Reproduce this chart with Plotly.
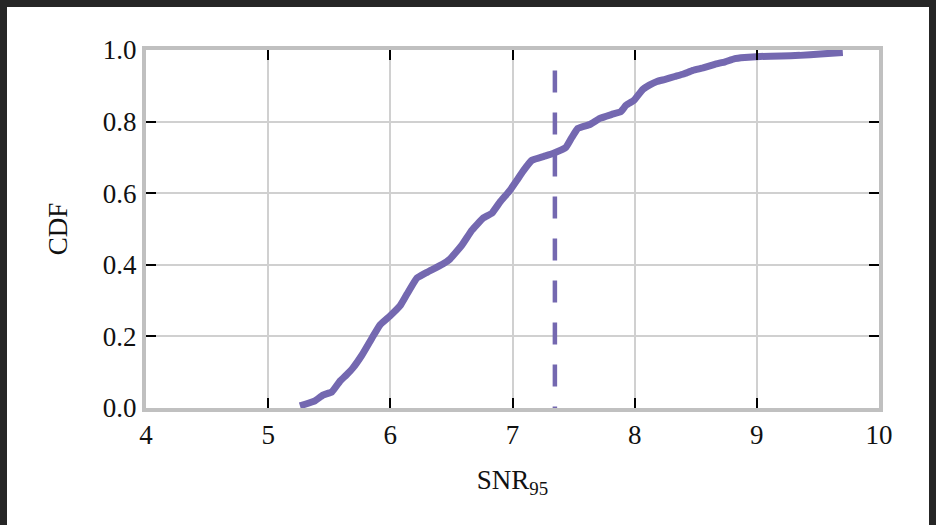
import plotly.graph_objects as go

snr = [5.26, 5.383, 5.448, 5.522, 5.588, 5.640, 5.694, 5.768, 5.849, 5.915, 5.997,
       6.079, 6.136, 6.218, 6.300, 6.430, 6.488, 6.586, 6.668, 6.758, 6.831,
       6.897, 6.979, 7.036, 7.085, 7.159, 7.257, 7.331, 7.437, 7.486, 7.535,
       7.633, 7.715, 7.813, 7.887, 7.928, 7.993, 8.067, 8.120, 8.182, 8.250,
       8.329, 8.400, 8.476, 8.560, 8.656, 8.740, 8.820, 8.900, 9.025, 9.200,
       9.352, 9.520, 9.704]
cdf = [0.006, 0.020, 0.036, 0.045, 0.075, 0.092, 0.112, 0.148, 0.195, 0.232, 0.257,
       0.285, 0.318, 0.363, 0.379, 0.402, 0.416, 0.455, 0.497, 0.530, 0.544,
       0.575, 0.608, 0.636, 0.661, 0.692, 0.703, 0.711, 0.728, 0.756, 0.781,
       0.792, 0.809, 0.820, 0.828, 0.845, 0.859, 0.890, 0.902, 0.912, 0.918,
       0.926, 0.933, 0.943, 0.950, 0.960, 0.967, 0.976, 0.979, 0.982, 0.983,
       0.985, 0.989, 0.993]

# Threshold marker (dashed vertical line)
threshold_x = [7.347, 7.347]
threshold_y = [0.943, 0.0]

x_ticks = [4, 5, 6, 7, 8, 9, 10]
y_ticks = [0.0, 0.2, 0.4, 0.6, 0.8, 1.0]
y_tick_labels = ["0.0", "0.2", "0.4", "0.6", "0.8", "1.0"]

purple = "#7468b0"
font_family = "Liberation Serif, Times New Roman, serif"

fig = go.Figure()
fig.add_trace(go.Scatter(x=snr, y=cdf, mode="lines",
                         line=dict(color=purple, width=7, shape="spline", smoothing=0.3),
                         showlegend=False, hoverinfo="skip"))
fig.add_trace(go.Scatter(x=threshold_x, y=threshold_y, mode="lines",
                         line=dict(color=purple, width=4.5, dash="22px,20px"),
                         showlegend=False, hoverinfo="skip"))

axis_common = dict(
    showline=True, linecolor="#c0c0c0", linewidth=4, mirror="allticks",
    showgrid=True, gridcolor="#d0d0d0", gridwidth=2,
    ticks="inside", ticklen=10, tickwidth=2, tickcolor="black",
    zeroline=False,
    tickfont=dict(family=font_family, size=27, color="#111111"),
)

fig.update_xaxes(range=[4, 10], tickvals=x_ticks, ticktext=[str(v) for v in x_ticks],
                 title=dict(text="SNR<sub>95</sub>",
                            font=dict(family=font_family, size=27, color="#111111"),
                            standoff=22),
                 **axis_common)
fig.update_yaxes(range=[0, 1], tickvals=y_ticks, ticktext=y_tick_labels,
                 title=dict(text="CDF",
                            font=dict(family=font_family, size=27, color="#111111"),
                            standoff=28),
                 **axis_common)

fig.update_layout(
    width=936, height=525,
    margin=dict(l=146, r=57, t=50, b=117, pad=0),
    paper_bgcolor="#262626",
    plot_bgcolor="white",
    shapes=[dict(type="rect", xref="paper", yref="paper",
                 x0=-139 / 733, x1=1 + 50 / 733,
                 y0=-117 / 358, y1=1 + 43 / 358,
                 fillcolor="white", line=dict(width=0), layer="below")],
)

fig.write_html("out.html")
